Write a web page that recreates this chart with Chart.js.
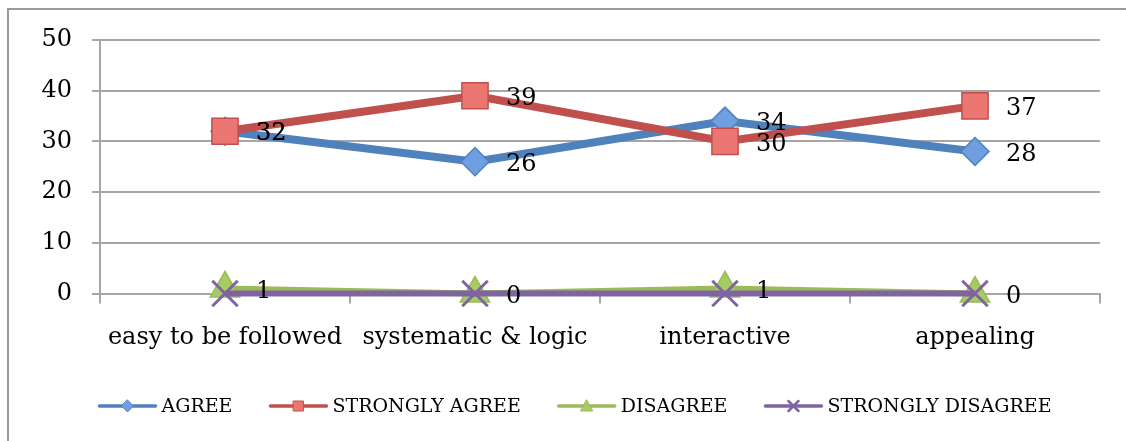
<!DOCTYPE html>
<html>
<head>
<meta charset="utf-8">
<script src="https://cdn.jsdelivr.net/npm/chart.js@4.4.1/dist/chart.umd.min.js"></script>
<style>
  html, body { margin: 0; padding: 0; background: #fff; overflow: hidden; }
  #frame { position: absolute; left: 7px; top: 8px; width: 1200px; height: 500px;
           border-top: 2px solid #9a9a9a; border-left: 2px solid #9a9a9a; }
  #wrap { position: absolute; left: 0; top: 0; width: 1126px; height: 441px; }
</style>
</head>
<body>
<div id="frame"></div>
<div id="wrap"><canvas id="c" width="1126" height="441"></canvas></div>
<script>
const categories = ['easy to be followed', 'systematic & logic', 'interactive', 'appealing'];
const seriesNames = ['AGREE', 'STRONGLY AGREE', 'DISAGREE', 'STRONGLY DISAGREE'];
const agree = [32, 26, 34, 28];
const stronglyAgree = [32, 39, 30, 37];
const disagree = [1, 0, 1, 0];
const stronglyDisagree = [0, 0, 0, 0];
const yTicks = [0, 10, 20, 30, 40, 50];

const FONT = 'DejaVu Serif';
const colors = ['#4f81bd', '#c0504d', '#9bbb59', '#8064a2'];
const fills = ['#6f9fe0', '#ec7672', '#a6cb62', '#8064a2'];
const styles = ['rectRot', 'rect', 'triangle', 'crossRot'];
const radii = [14, 18.5, 17, 18];
const widths = [8, 8, 6, 6];
const labelSeries = [0, 1, 2];

const valueSets = [agree, stronglyAgree, disagree, stronglyDisagree];

const datasets = valueSets.map((vals, i) => ({
  label: seriesNames[i],
  data: vals,
  borderColor: colors[i],
  borderWidth: widths[i],
  pointStyle: styles[i],
  pointRadius: radii[i],
  pointHoverRadius: radii[i],
  pointBackgroundColor: fills[i],
  pointBorderColor: colors[i],
  pointBorderWidth: i === 3 ? 3 : 1.5,
  tension: 0,
  clip: false,
  order: 4 - i
}));

const dataLabels = {
  id: 'dataLabels',
  afterDatasetsDraw(chart) {
    const ctx = chart.ctx;
    ctx.save();
    ctx.font = '24px "' + FONT + '"';
    ctx.fillStyle = '#000';
    ctx.textAlign = 'left';
    ctx.textBaseline = 'middle';
    labelSeries.forEach(i => {
      const meta = chart.getDatasetMeta(i);
      meta.data.forEach((pt, j) => {
        ctx.fillText(String(valueSets[i][j]), pt.x + 31, pt.y + 3);
      });
    });
    ctx.restore();
  }
};

const legendPlugin = {
  id: 'customLegend',
  afterDraw(chart) {
    const ctx = chart.ctx;
    ctx.save();
    ctx.font = '19px "' + FONT + '"';
    const lineLen = 58, textGap = 5, itemGap = 37;
    const ws = seriesNames.map(n => ctx.measureText(n).width);
    const total = ws.reduce((a, w) => a + lineLen + textGap + w, 0) + itemGap * (seriesNames.length - 1);
    let x = 575 - total / 2;
    const y = 406;
    seriesNames.forEach((n, i) => {
      ctx.strokeStyle = colors[i];
      ctx.lineWidth = 3.5;
      ctx.lineCap = 'round';
      ctx.beginPath();
      ctx.moveTo(x + 1, y);
      ctx.lineTo(x + lineLen - 1, y);
      ctx.stroke();
      const mx = x + lineLen / 2;
      ctx.fillStyle = fills[i];
      ctx.strokeStyle = colors[i];
      ctx.lineWidth = 1;
      ctx.beginPath();
      if (i === 0) {
        ctx.moveTo(mx, y - 6); ctx.lineTo(mx + 6, y); ctx.lineTo(mx, y + 6); ctx.lineTo(mx - 6, y); ctx.closePath();
        ctx.fill(); ctx.stroke();
      } else if (i === 1) {
        ctx.rect(mx - 5, y - 5, 10, 10); ctx.fill(); ctx.stroke();
      } else if (i === 2) {
        ctx.moveTo(mx, y - 6); ctx.lineTo(mx + 6, y + 5); ctx.lineTo(mx - 6, y + 5); ctx.closePath();
        ctx.fill(); ctx.stroke();
      } else {
        ctx.lineWidth = 2.5;
        ctx.moveTo(mx - 5, y - 5); ctx.lineTo(mx + 5, y + 5);
        ctx.moveTo(mx + 5, y - 5); ctx.lineTo(mx - 5, y + 5);
        ctx.stroke();
      }
      ctx.fillStyle = '#000';
      ctx.textAlign = 'left';
      ctx.textBaseline = 'middle';
      ctx.fillText(n, x + lineLen + textGap, y + 1);
      x += lineLen + textGap + ws[i] + itemGap;
    });
    ctx.restore();
  }
};

new Chart(document.getElementById('c'), {
  type: 'line',
  data: { labels: categories, datasets },
  options: {
    responsive: false,
    animation: false,
    events: [],
    layout: { padding: { top: 40, right: 26, bottom: 80, left: 0 } },
    plugins: { legend: { display: false }, tooltip: { enabled: false } },
    scales: {
      x: {
        type: 'category',
        offset: true,
        grid: { offset: true, drawOnChartArea: false, tickLength: 10, color: '#a6a6a6', lineWidth: 2 },
        border: { display: true, color: '#a6a6a6', width: 2 },
        ticks: { font: { family: FONT, size: 24 }, color: '#000', padding: 20, maxRotation: 0, autoSkip: false },
        afterFit(s) { s.height = 441 - 80 - 293.5; }
      },
      y: {
        min: 0, max: 50,
        afterBuildTicks(s) { s.ticks = yTicks.map(v => ({ value: v })); },
        grid: { color: '#a6a6a6', lineWidth: 2, tickLength: 8 },
        border: { display: true, color: '#a6a6a6', width: 2 },
        ticks: { font: { family: FONT, size: 24 }, color: '#000', padding: 20 },
        afterFit(s) { s.width = 100; }
      }
    }
  },
  plugins: [dataLabels, legendPlugin]
});
</script>
</body>
</html>
